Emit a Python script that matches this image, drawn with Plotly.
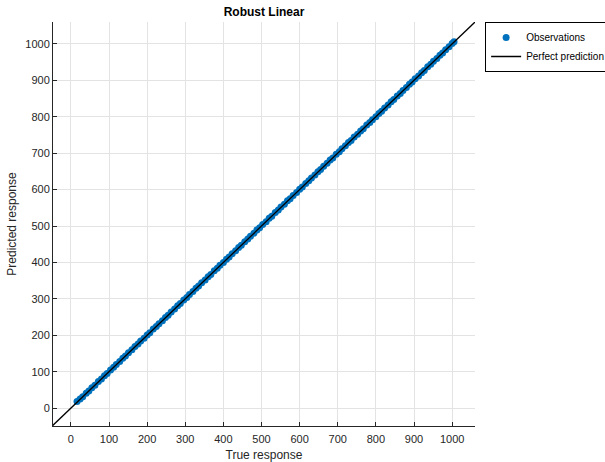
import plotly.graph_objects as go

true_resp = [16, 24, 31, 40, 47, 55, 63, 72, 80, 88,
             95, 104, 112, 119, 128, 136, 143, 151, 160, 168,
             176, 183, 192, 200, 207, 216, 224, 231, 240, 248,
             255, 263, 272, 280, 287, 296, 304, 311, 320, 328,
             335, 343, 352, 360, 367, 376, 384, 391, 400, 408,
             415, 423, 432, 440, 447, 456, 464, 471, 480, 488,
             495, 503, 512, 520, 527, 536, 544, 551, 560, 568,
             575, 583, 592, 600, 607, 616, 624, 631, 640, 648,
             655, 663, 672, 680, 687, 696, 704, 711, 720, 728,
             735, 743, 752, 760, 767, 776, 784, 791, 800, 808,
             815, 823, 832, 840, 847, 856, 864, 871, 880, 888,
             895, 903, 912, 920, 927, 936, 944, 951, 960, 968,
             975, 983, 992, 1000, 1005]
pred_resp = [18, 25, 31, 41, 47, 56, 63, 73, 80, 89,
             95, 105, 112, 120, 128, 137, 143, 152, 160, 169,
             176, 184, 192, 201, 207, 217, 224, 232, 240, 249,
             255, 264, 272, 281, 287, 297, 304, 312, 320, 329,
             335, 344, 352, 361, 367, 377, 384, 392, 400, 409,
             415, 424, 432, 441, 447, 457, 464, 472, 480, 489,
             495, 504, 512, 521, 527, 537, 544, 552, 560, 569,
             575, 584, 592, 601, 607, 617, 624, 632, 640, 649,
             655, 664, 672, 681, 687, 697, 704, 712, 720, 729,
             735, 744, 752, 761, 767, 777, 784, 792, 800, 809,
             815, 824, 832, 841, 847, 857, 864, 872, 880, 889,
             895, 904, 912, 921, 927, 937, 944, 952, 960, 969,
             975, 984, 992, 1001, 1006]
perfect_line = [-60, 1080]
tick_vals = [0, 100, 200, 300, 400, 500, 600, 700, 800, 900, 1000]
x_range = [-47, 1060]
y_range = [-49, 1060]

font_family = "Liberation Sans, Arial, sans-serif"
axis_color = "#262626"

fig = go.Figure()
fig.add_trace(go.Scatter(
    x=true_resp, y=pred_resp, mode="markers", name="Observations",
    marker=dict(color="#0072BD", size=7, line=dict(width=0)),
))
fig.add_trace(go.Scatter(
    x=perfect_line, y=perfect_line, mode="lines", name="Perfect prediction",
    line=dict(color="black", width=1.3),
))

axis_common = dict(
    tickvals=tick_vals,
    ticks="inside", ticklen=4, tickcolor=axis_color, tickwidth=1,
    showline=True, linecolor=axis_color, linewidth=1, mirror=False,
    showgrid=True, gridcolor="#e3e3e3", gridwidth=1,
    zeroline=False, automargin=False,
    tickfont=dict(family=font_family, size=11, color=axis_color),
)

fig.update_layout(
    width=605, height=462,
    margin=dict(l=53, r=130, t=22, b=36, autoexpand=False),
    paper_bgcolor="white", plot_bgcolor="white",
    title=dict(text="<b>Robust Linear</b>", x=(53 + 475) / 2 / 605, xanchor="center",
               y=1 - 12 / 462, yanchor="middle",
               font=dict(family=font_family, size=12, color="black")),
    xaxis=dict(range=x_range, ticklabelstandoff=3,
               title=dict(text="True response", standoff=7,
                          font=dict(family=font_family, size=12, color=axis_color)),
               **axis_common),
    yaxis=dict(range=y_range,
               title=dict(text="Predicted response", standoff=6,
                          font=dict(family=font_family, size=12, color=axis_color)),
               **axis_common),
    legend=dict(x=1.024, y=1.0, xanchor="left", yanchor="top",
                bordercolor="black", borderwidth=1, bgcolor="white",
                font=dict(family=font_family, size=10, color="black"),
                tracegroupgap=0, itemwidth=30),
    showlegend=True,
)

fig.write_html("out.html",
               config={"displayModeBar": False},
               post_script="document.body.style.margin='0';document.body.style.overflow='hidden';")
